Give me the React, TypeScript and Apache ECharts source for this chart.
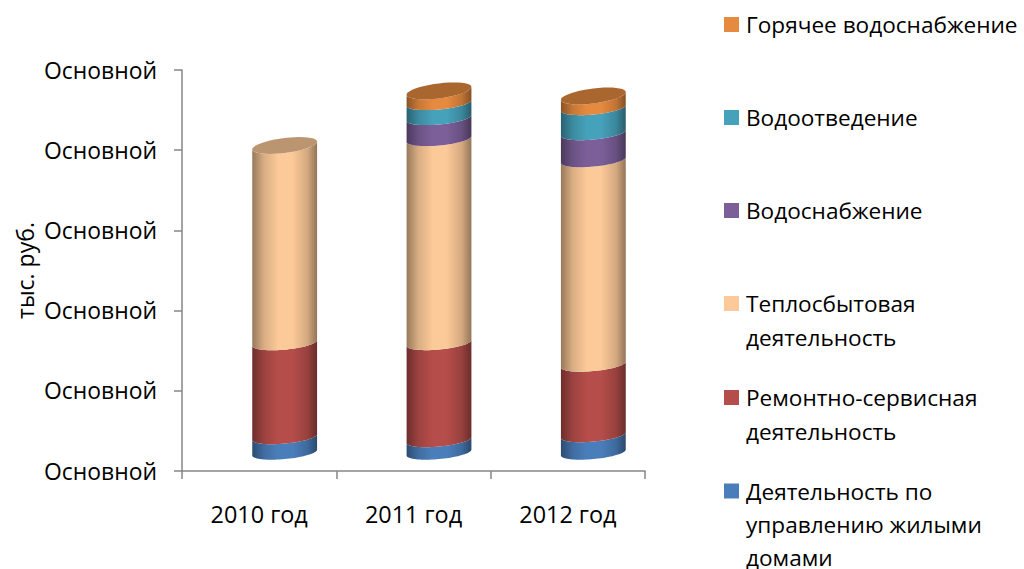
import React, { useEffect, useRef } from "react";
import * as echarts from "echarts";

const categories = ["2010 год", "2011 год", "2012 год"];
const yTickLabels = ["Основной", "Основной", "Основной", "Основной", "Основной", "Основной"];
const yAxisTitle = "тыс. руб.";

const seriesNames = [
  "Деятельность по управлению жилыми домами",
  "Ремонтно-сервисная деятельность",
  "Теплосбытовая деятельность",
  "Водоснабжение",
  "Водоотведение",
  "Горячее водоснабжение",
];
const legendLines = [
  ["Деятельность по", "управлению жилыми", "домами"],
  ["Ремонтно-сервисная", "деятельность"],
  ["Теплосбытовая", "деятельность"],
  ["Водоснабжение"],
  ["Водоотведение"],
  ["Горячее водоснабжение"],
];
const upravlenie = [1930, 1560, 2180];
const remont = [11720, 12100, 8790];
const teplo = [24630, 25440, 25500];
const vodosnab = [0, 2620, 3370];
const vodootvod = [0, 1870, 3120];
const goryachee = [0, 1500, 1500];
const seriesValues = [upravlenie, remont, teplo, vodosnab, vodootvod, goryachee];
const seriesColors = ["#4a7ebb", "#b54d4a", "#fcc998", "#7c5f99", "#46a1ba", "#e68a3f"];
const legendCenters = [491, 397.5, 303.5, 210.5, 117.5, 24.5];
const legendLineHeights = [33, 34, 34, 34, 34, 34];

const FONT = "'Open Sans', 'Noto Sans', sans-serif";
const FONT_SIZE = 22.6;

function shade(hex: string, f: number) {
  const n = parseInt(hex.slice(1), 16);
  const c = [(n >> 16) & 255, (n >> 8) & 255, n & 255].map((v) => Math.round(v * f));
  return `rgb(${c[0]},${c[1]},${c[2]})`;
}

function bodyFill(color: string) {
  return new echarts.graphic.LinearGradient(0, 0, 1, 0, [
    { offset: 0, color: shade(color, 0.6) },
    { offset: 0.18, color: shade(color, 0.86) },
    { offset: 0.4, color: shade(color, 1) },
    { offset: 0.62, color: shade(color, 1) },
    { offset: 0.85, color: shade(color, 0.84) },
    { offset: 1, color: shade(color, 0.58) },
  ]);
}

const DX = 25.5;
const DY = -18.5;
const BAR_RATIO = 0.21;

function arc(cx: number, cy: number, a: number, from: number, to: number, minor: number, shear: number) {
  const pts: number[][] = [];
  const steps = 40;
  for (let i = 0; i <= steps; i++) {
    const t = from + ((to - from) * i) / steps;
    pts.push([cx + a * Math.cos(t), cy + minor * Math.sin(t) - shear * a * Math.cos(t)]);
  }
  return pts;
}

function makeSeries(si: number) {
  const data = categories.map((_, ci) => {
    let low = 0;
    for (let k = 0; k < si; k++) low += seriesValues[k][ci];
    return [ci, low, low + seriesValues[si][ci]];
  });
  return {
    type: "custom",
    name: seriesNames[si],
    itemStyle: { color: seriesColors[si] },
    encode: { x: 0, y: [1, 2] },
    data,
    renderItem: (_p: any, api: any) => {
      const ci = api.value(0);
      const low = api.value(1);
      const high = api.value(2);
      if (high <= low) return { type: "group", children: [] };
      const a = api.size([1, 0])[0] * BAR_RATIO;
      const p0 = api.coord([ci, low]);
      const p1 = api.coord([ci, high]);
      const cx = p0[0] + DX;
      const lowerY = p0[1] + DY;
      const upperY = p1[1] + DY;
      const color = seriesColors[si];
      let isTop = true;
      for (let k = si + 1; k < seriesValues.length; k++) {
        if (seriesValues[k][ci] > 0) isTop = false;
      }
      const upMinor = isTop ? 7.5 : 6.6;
      const upShear = isTop ? 0.12 : 0.09;
      const side = [
        ...arc(cx, lowerY, a, Math.PI, 0, 6.6, 0.09),
        ...arc(cx, upperY, a, 0, Math.PI, upMinor, upShear),
      ];
      const children: any[] = [
        { type: "polygon", shape: { points: side }, style: { fill: bodyFill(color) } },
      ];
      if (isTop) {
        children.push({
          type: "polygon",
          shape: { points: arc(cx, upperY, a, 0, Math.PI * 2, upMinor, upShear) },
          style: { fill: shade(color, 0.74) },
        });
      }
      return { type: "group", children };
    },
  };
}

export default function App() {
  const ref = useRef<HTMLDivElement>(null);
  useEffect(() => {
    const chart = echarts.init(ref.current!, null, { renderer: "svg" });
    const axisLine = { show: true, lineStyle: { color: "#868686", width: 1.5 } };
    const axisTick = { show: true, length: 8, lineStyle: { color: "#868686", width: 1.5 } };
    chart.setOption({
      animation: false,
      backgroundColor: "#ffffff",
      textStyle: { fontFamily: FONT },
      grid: { left: 182, right: 379, top: 70, bottom: 98 },
      xAxis: {
        type: "category",
        data: categories,
        axisLine,
        axisTick,
        axisLabel: { color: "#000", fontFamily: FONT, fontSize: 23.4, margin: 31 },
      },
      yAxis: {
        type: "value",
        min: 0,
        max: 50000,
        interval: 10000,
        splitLine: { show: false },
        axisLine,
        axisTick,
        axisLabel: {
          color: "#000",
          fontFamily: FONT,
          fontSize: 22.9,
          margin: 25,
          formatter: (v: number) => yTickLabels[Math.round(v / 10000)],
        },
        name: yAxisTitle,
        nameLocation: "middle",
        nameGap: 146,
        nameTextStyle: { color: "#000", fontFamily: FONT, fontSize: 23 },
      },
      legend: seriesNames.map((name, i) => {
        const n = legendLines[i].length;
        const lh = legendLineHeights[i];
        return {
          data: [name],
          left: 724,
          top: legendCenters[i] - (n - 1) * lh - lh / 2,
          padding: 0,
          orient: "vertical",
          icon: "rect",
          itemWidth: 15,
          itemHeight: 15,
          selectedMode: false,
          formatter: () => [...legendLines[i].map(() => "").slice(1), ...legendLines[i]].join("\n"),
          textStyle: {
            color: "#000",
            fontFamily: FONT,
            fontSize: FONT_SIZE,
            lineHeight: lh,
            padding: [0, 0, 0, 2],
          },
        };
      }),
      series: seriesNames.map((_, i) => makeSeries(i)),
    });
    return () => chart.dispose();
  }, []);
  return <div ref={ref} style={{ position: "fixed", left: 0, top: 0, width: 1024, height: 569 }} />;
}
